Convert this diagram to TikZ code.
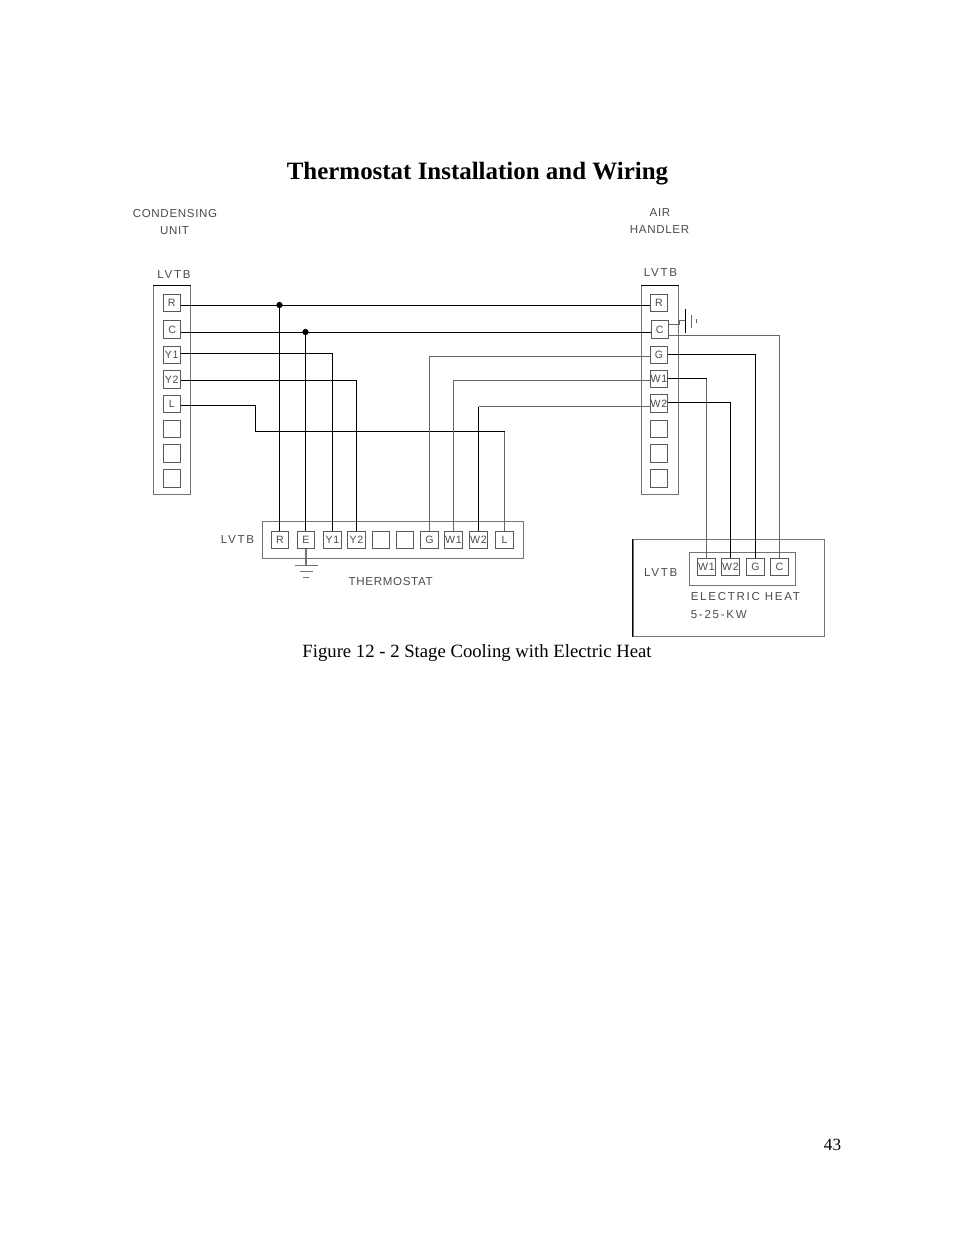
\documentclass[tikz,border=0pt]{standalone}
\usepackage{fontspec}
\setmainfont{Liberation Serif}
\newfontfamily\cadfont[LetterSpace=6]{Liberation Sans}
\newfontfamily\cadwide[LetterSpace=15]{Liberation Sans}
\usepackage{xcolor}
\usetikzlibrary{positioning,calc}
\definecolor{framegray}{gray}{0.45}
\definecolor{cadtext}{gray}{0.3}
\tikzset{
    wire/.style={line width=0.65pt,black},
    lightwire/.style={line width=0.6pt,black!60},
    groundwire/.style={line width=0.9pt,black!55},
    frame/.style={draw=framegray,line width=0.6pt,inner sep=0pt,fill=none},
    terminal/.style={draw=black!65,line width=0.6pt,inner sep=0pt,minimum width=11.1pt,minimum height=11.1pt,text=cadtext,font=\cadfont\fontsize{6.8}{7}\selectfont},
    cadlabel/.style={inner sep=0pt,text=cadtext,font=\cadfont\fontsize{7.4}{9}\selectfont},
    widelabel/.style={inner sep=0pt,text=cadtext,font=\cadwide\fontsize{7.4}{9}\selectfont},
    junction/.style={circle,fill=black,inner sep=0pt,minimum size=4pt}
}

\begin{document}
\begin{tikzpicture}[x=0.6415pt,y=-0.6415pt]
    \path[fill=white,use as bounding box] (0,0) rectangle (954,1235);

    % Page text
    \node (title) at (477.5,173.5) {\fontsize{16}{18}\selectfont\bfseries Thermostat Installation and Wiring};
    \node (caption) at (477,653.5) {\fontsize{12}{14}\selectfont Figure 12 - 2 Stage Cooling with Electric Heat};
    \node (pagenum) at (832.5,1145) {\fontsize{11}{14}\selectfont 43};

    % Condensing unit
    \node[cadlabel] (cuName) at (175,213.5) {CONDENSING};
    \node[cadlabel] (cuUnit) at (174.5,231) {UNIT};
    \node[widelabel] (cuLvtb) at (174,275) {LVTB};
    \node[frame,minimum width=23.6pt,minimum height=134pt] (cuBox) at (171.8,390) {};
    \node[terminal] (cuR) at (171.7,303) {R};
    \node[terminal] (cuC) at (172.2,329.5) {C};
    \node[terminal] (cuY1) at (171.7,355) {Y1};
    \node[terminal] (cuY2) at (171.7,379.5) {Y2};
    \node[terminal] (cuL) at (171.7,404) {L};
    \node[terminal] (cuA) at (171.7,428.7) {};
    \node[terminal] (cuB) at (171.7,453.5) {};
    \node[terminal] (cuD) at (171.7,478.5) {};
    \draw[wire] (cuBox.north west) -- (cuBox.north east);

    % Air handler
    \node[cadlabel] (ahAir) at (660,213) {AIR};
    \node[cadlabel] (ahName) at (659.5,230) {HANDLER};
    \node[widelabel] (ahLvtb) at (660.5,273) {LVTB};
    \node[frame,minimum width=23.6pt,minimum height=134pt] (ahBox) at (659.7,390) {};
    \node[terminal] (ahR) at (659,303) {R};
    \node[terminal] (ahC) at (659.7,329.5) {C};
    \node[terminal] (ahG) at (659,355) {G};
    \node[terminal] (ahW1) at (659,379) {W1};
    \node[terminal] (ahW2) at (659,403.5) {W2};
    \node[terminal] (ahA) at (659,428.7) {};
    \node[terminal] (ahB) at (659,453.5) {};
    \node[terminal] (ahD) at (659,478.5) {};
    \draw[wire] (ahBox.north west) -- (ahBox.north east);

    % Thermostat
    \node[widelabel] (tsLvtb) at (237.5,539.5) {LVTB};
    \node[cadlabel] (tsName) at (390.7,581.7) {THERMOSTAT};
    \node[frame,minimum width=167.7pt,minimum height=23.5pt] (tsBox) at (393,540) {};
    \node[terminal] (tsR) at (280,539.8) {R};
    \node[terminal] (tsE) at (306,539.8) {E};
    \node[terminal] (tsY1) at (332.5,539.8) {Y1};
    \node[terminal] (tsY2) at (356.5,539.8) {Y2};
    \node[terminal] (tsA) at (381,539.8) {};
    \node[terminal] (tsB) at (405.3,539.8) {};
    \node[terminal] (tsG) at (429.5,539.8) {G};
    \node[terminal] (tsW1) at (453.5,539.8) {W1};
    \node[terminal] (tsW2) at (478.5,539.8) {W2};
    \node[terminal] (tsL) at (504.5,539.8) {L};

    % Electric heat
    \node[widelabel] (ehLvtb) at (660.7,572.7) {LVTB};
    \node[frame,minimum width=122.5pt,minimum height=62.5pt] (ehBox) at (728.8,588) {};
    \node[frame,minimum width=68pt,minimum height=21.2pt] (ehStrip) at (742.3,568.8) {};
    \node[terminal] (ehW1) at (706.5,566.7) {W1};
    \node[terminal] (ehW2) at (730.5,566.7) {W2};
    \node[terminal] (ehG) at (755.5,566.7) {G};
    \node[terminal] (ehC) at (779.5,566.7) {C};
    \node[widelabel,anchor=west] (ehName) at (690.5,596.7) {ELECTRIC HEAT};
    \node[widelabel,anchor=west] (ehSize) at (690.5,614.3) {5-25-KW};
    \draw[wire] (ehBox.north west) -- (ehBox.south west);

    % Condensing unit to air handler and thermostat
    \draw[wire] (cuR.east |- 0,305) -- (ahR.west |- 0,305);
    \draw[wire] (cuC.east |- 0,332) -- (ahC.west |- 0,332);
    \node[junction] (dotR) at (279.5,305) {};
    \node[junction] (dotC) at (305.5,332) {};
    \draw[wire] (dotR) -- (tsR.north -| dotR);
    \draw[wire] (dotC) -- (tsE.north -| dotC);
    \draw[wire] (cuY1.east |- 0,353.5) -| (tsY1.north);
    \draw[wire] (cuY2.east |- 0,380.5) -| (tsY2.north);
    \draw[wire] (cuL.east |- 0,405.5) -- (255.5,405.5) -- (255.5,431.5) -- (504.5,431.5);
    \draw[lightwire] (504.5,431.5) -- (tsL.north);

    % Air handler to thermostat
    \draw[lightwire] (ahG.west |- 0,356.5) -| (tsG.north);
    \draw[lightwire] (ahW1.west |- 0,380.5) -| (tsW1.north);
    \draw[lightwire] (ahW2.west |- 0,406.5) -- (478.5,406.5);
    \draw[wire] (478.5,406.5) -- (tsW2.north);

    % Air handler to electric heat
    \draw[wire] (ahW1.east |- 0,378.5) -- (706.5,378.5);
    \draw[lightwire] (706.5,378.5) -- (ehW1.north);
    \draw[wire] (ahW2.east |- 0,402.5) -| (ehW2.north);
    \draw[wire] (ahG.east |- 0,354.5) -| (ehG.north);
    \draw[lightwire] (ahC.east |- 0,335.5) -| (ehC.north);

    % Ground at air handler
    \draw[lightwire] (ahC.east |- 0,324.7) -- (679.3,324.7) -- (679.3,320) -- (685.3,320);
    \draw[wire] (685.5,309.3) -- (685.5,332.7);
    \draw[lightwire] (691.5,315) -- (691.5,327.7);
    \draw[lightwire] (696.7,319) -- (696.7,323);

    % Ground at thermostat
    \draw[groundwire] (tsE.south) -- (306,565.7);
    \draw[groundwire] (294.7,565.7) -- (317.7,565.7);
    \draw[groundwire] (299.7,571.3) -- (313,571.3);
    \draw[groundwire] (302.7,577.7) -- (309.3,577.7);
\end{tikzpicture}
\end{document}
